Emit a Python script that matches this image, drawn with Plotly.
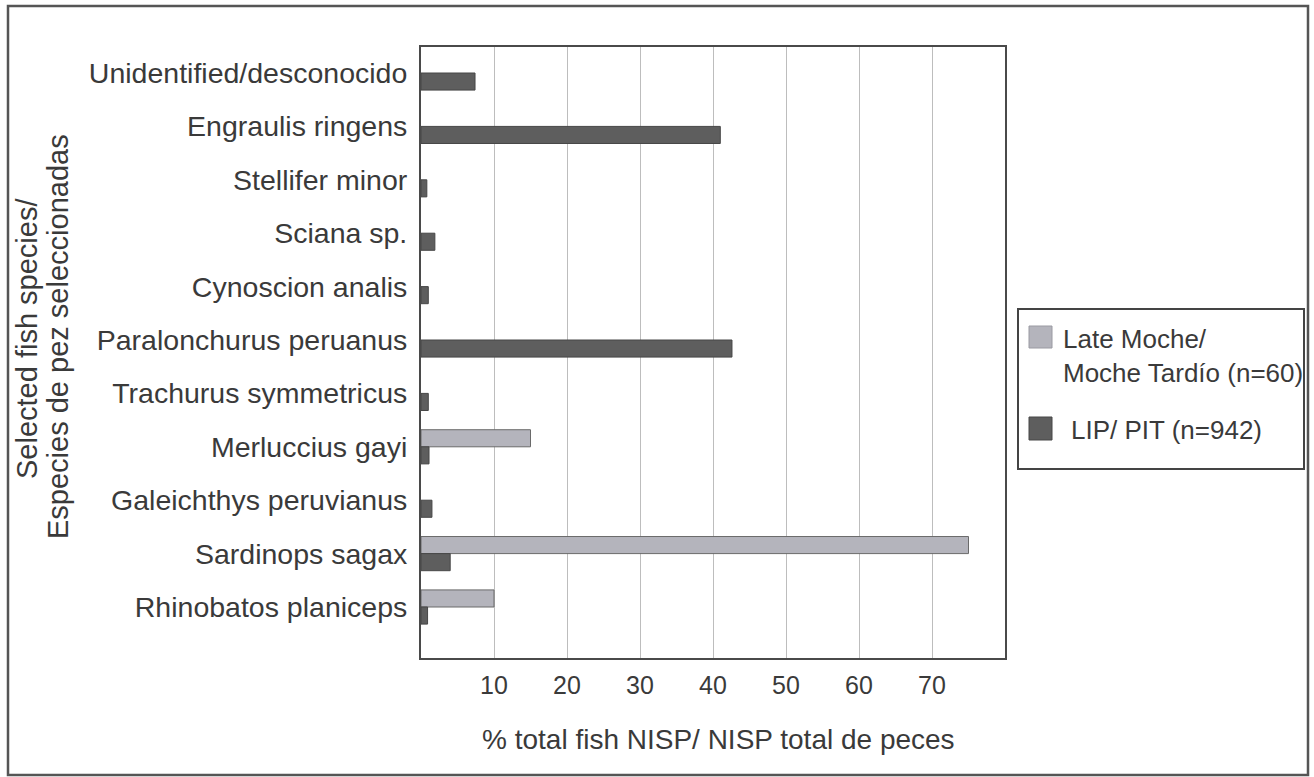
import plotly.graph_objects as go

categories = [
    "Unidentified/desconocido",
    "Engraulis ringens",
    "Stellifer minor",
    "Sciana sp.",
    "Cynoscion analis",
    "Paralonchurus peruanus",
    "Trachurus symmetricus",
    "Merluccius gayi",
    "Galeichthys peruvianus",
    "Sardinops sagax",
    "Rhinobatos planiceps",
]
late_moche = [0, 0, 0, 0, 0, 0, 0, 15, 0, 75, 10]
lip_pit = [7.4, 41.0, 0.8, 1.9, 1.0, 42.6, 1.0, 1.1, 1.5, 4.0, 0.9]
x_ticks = [10, 20, 30, 40, 50, 60, 70]

series_names = ["Late Moche/<br>Moche Tardío (n=60)", "LIP/ PIT (n=942)"]
x_title = "% total fish NISP/ NISP total de peces"
y_title_lines = ["Selected fish species/", "Especies de pez seleccionadas"]

FONT = "Liberation Sans, Arial, sans-serif"
TXT = "#3a3a3a"
LIGHT, LIGHT_EDGE = "#b4b4bc", "#6a6a6a"
DARK, DARK_EDGE = "#5e5e5e", "#474747"

W, H = 1314, 777
L, R, T, B = 421, 309, 47, 119
pw, ph = W - L - R, H - T - B


def px_x(p):
    return (p - L) / pw


def px_y(p):
    return (H - B - p) / ph


def edge_widths(values):
    # no outline on empty (zero-length) bars
    return [1 if v > 0 else 0 for v in values]


fig = go.Figure()
fig.add_trace(go.Bar(
    y=categories, x=late_moche, orientation="h", name=series_names[0],
    marker=dict(color=LIGHT, line=dict(color=LIGHT_EDGE, width=edge_widths(late_moche))),
    showlegend=False,
))
fig.add_trace(go.Bar(
    y=categories, x=lip_pit, orientation="h", name=series_names[1],
    marker=dict(color=DARK, line=dict(color=DARK_EDGE, width=edge_widths(lip_pit))),
    showlegend=False,
))

shapes = [
    # outer frame around the whole figure
    dict(type="rect", xref="paper", yref="paper",
         x0=px_x(8), x1=px_x(1308), y0=px_y(775), y1=px_y(6),
         line=dict(color="#555555", width=2.5), layer="below"),
    # legend box
    dict(type="rect", xref="paper", yref="paper",
         x0=px_x(1018), x1=px_x(1304), y0=px_y(469), y1=px_y(309),
         line=dict(color="#444444", width=2), fillcolor="white"),
    # legend swatches
    dict(type="rect", xref="paper", yref="paper",
         x0=px_x(1029), x1=px_x(1052), y0=px_y(348), y1=px_y(326),
         line=dict(color="#9a9aa2", width=1), fillcolor=LIGHT),
    dict(type="rect", xref="paper", yref="paper",
         x0=px_x(1029), x1=px_x(1052), y0=px_y(440), y1=px_y(417),
         line=dict(color=DARK_EDGE, width=1), fillcolor=DARK),
]

annotations = [
    dict(text=series_names[0], xref="paper", yref="paper",
         x=px_x(1061), y=px_y(356), xanchor="left", yanchor="middle",
         align="left", showarrow=False,
         font=dict(size=26, family=FONT, color=TXT)),
    dict(text=series_names[1], xref="paper", yref="paper",
         x=px_x(1069), y=px_y(430), xanchor="left", yanchor="middle",
         align="left", showarrow=False,
         font=dict(size=26, family=FONT, color=TXT)),
    dict(text=x_title, xref="paper", yref="paper",
         x=px_x(718), y=px_y(739), xanchor="center", yanchor="middle",
         showarrow=False, font=dict(size=28, family=FONT, color=TXT)),
    dict(text=y_title_lines[0], xref="paper", yref="paper",
         x=px_x(27), y=px_y(339), xanchor="center", yanchor="middle",
         textangle=-90, showarrow=False,
         font=dict(size=29, family=FONT, color=TXT)),
    dict(text=y_title_lines[1], xref="paper", yref="paper",
         x=px_x(58), y=px_y(337), xanchor="center", yanchor="middle",
         textangle=-90, showarrow=False,
         font=dict(size=29, family=FONT, color=TXT)),
]

fig.update_layout(
    width=W, height=H,
    margin=dict(l=L, r=R, t=T, b=B, autoexpand=False),
    paper_bgcolor="white", plot_bgcolor="white",
    barmode="group", bargap=0.36, bargroupgap=0,
    font=dict(family=FONT, color=TXT, size=26),
    showlegend=False,
    shapes=shapes,
    annotations=annotations,
    xaxis=dict(
        range=[0, 80], tickvals=x_ticks, showgrid=True,
        gridcolor="#bdbdbd", gridwidth=1, zeroline=False,
        showline=True, mirror=True, linecolor="#4a4a4a", linewidth=2,
        ticks="", tickfont=dict(size=25, family=FONT, color=TXT),
        ticklabelstandoff=4,
    ),
    yaxis=dict(
        categoryorder="array", categoryarray=categories,
        range=[10.955, -0.487], showgrid=False, zeroline=False,
        showline=True, mirror=True, linecolor="#4a4a4a", linewidth=2,
        ticks="", tickfont=dict(size=28.5, family=FONT, color=TXT),
        ticklabelstandoff=6,
    ),
)

fig.write_html(
    "out.html",
    config={"displayModeBar": False},
    post_script="document.body.style.margin='0';document.body.style.overflow='hidden';",
)
